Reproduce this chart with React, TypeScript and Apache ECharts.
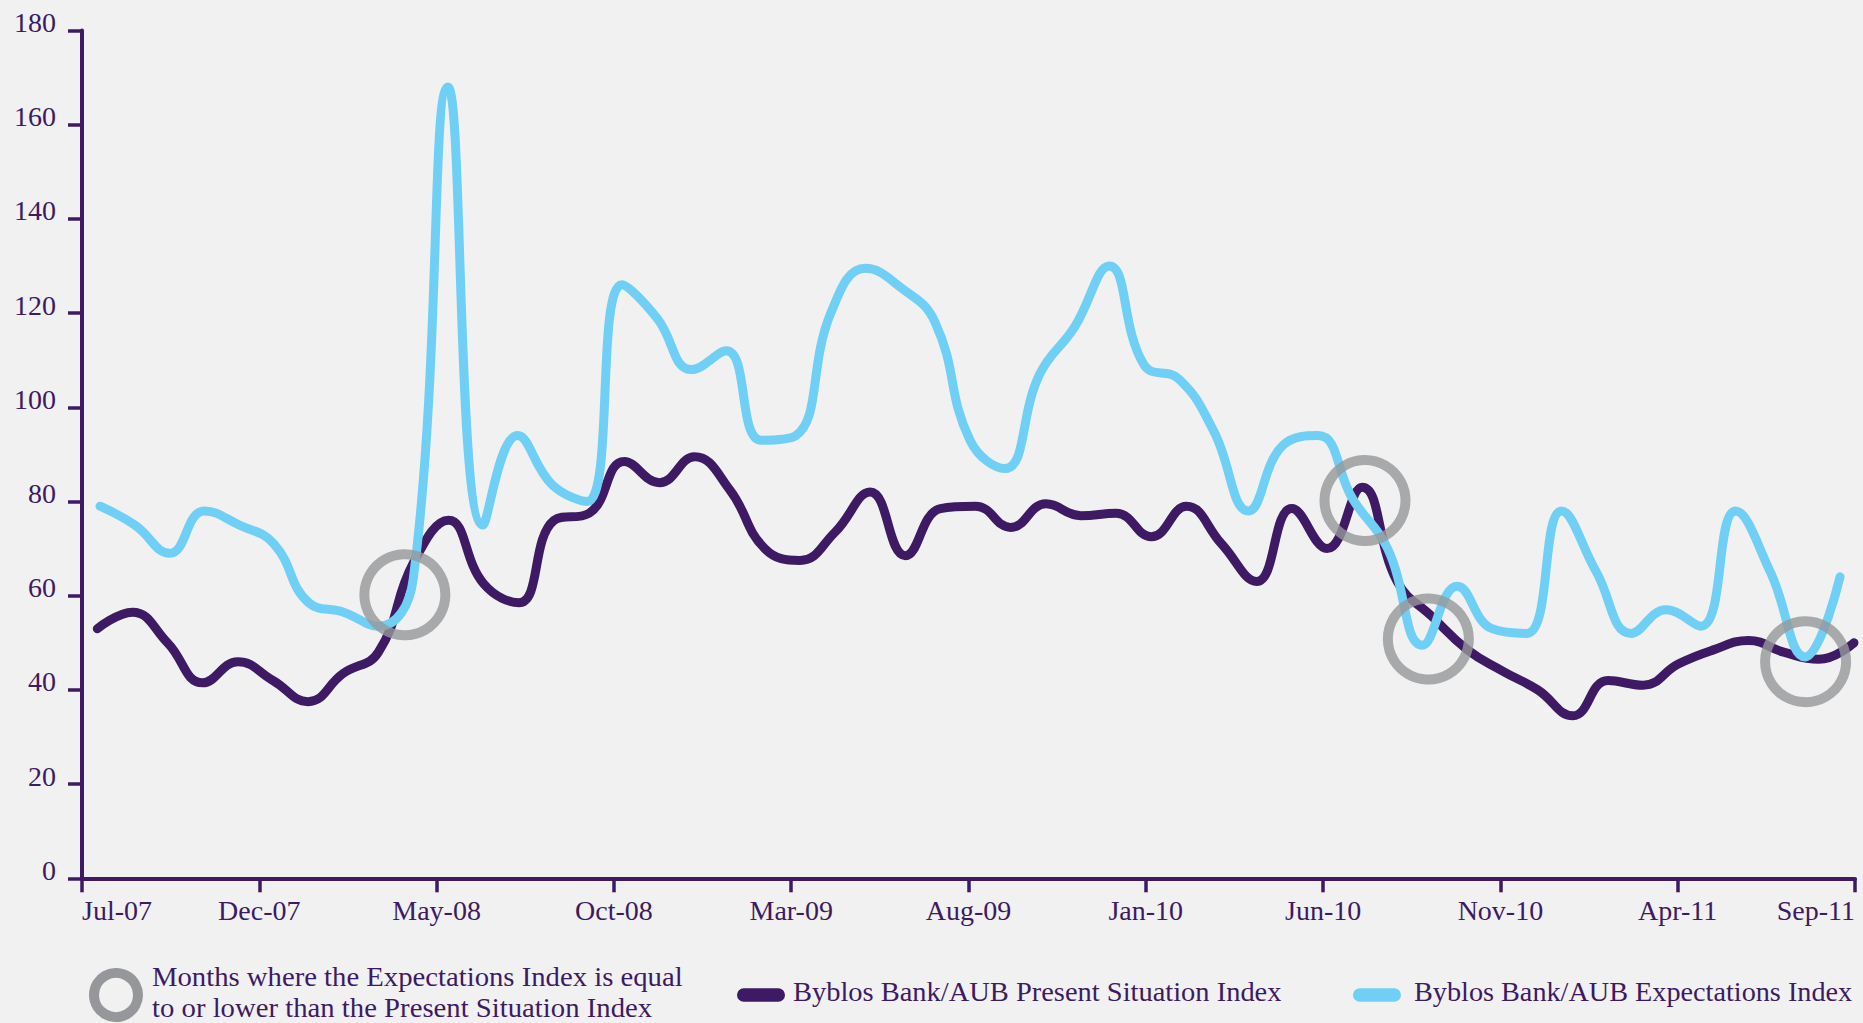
import React, { useEffect, useRef } from "react";
import * as echarts from "echarts";

// Month labels shown under the x-axis ticks (every fifth month, Jul-07 .. Sep-11)
const tickLabels = [
  "Jul-07", "Dec-07", "May-08", "Oct-08", "Mar-09", "Aug-09",
  "Jan-10", "Jun-10", "Nov-10", "Apr-11", "Sep-11",
];

// Byblos Bank/AUB Present Situation Index, monthly Jul-07 .. Sep-11
const presentIndex = [
  53, 56.5, 50, 41.5, 46, 42, 37.5, 43.5, 48, 67,
  76, 62.5, 58.5, 76, 77.5, 88.5, 84, 89.5, 82.5, 70,
  67.5, 73.5, 82, 68.5, 78.5, 79, 74.5, 79.5, 77, 77.5,
  72.5, 79, 71, 63, 78.5, 70, 83, 63, 55.5, 48.5,
  44, 40, 34.5, 42, 41, 45.5, 48.5, 50.5, 48, 46.5,
  50,
];

// Byblos Bank/AUB Expectations Index, monthly Jul-07 .. Sep-11
const expectationsIndex = [
  79, 75, 69, 78, 75, 71, 58.5, 56.5, 53.5, 63.5,
  168, 75, 94, 83.5, 80, 126, 119, 108, 112, 93,
  94, 120, 129.5, 125.5, 118, 93, 87, 107, 117, 130,
  109, 106, 95, 78, 92, 94, 80.5, 70, 49.5, 62,
  53, 52, 78, 65, 52, 57, 53.5, 78, 65, 47,
  64,
];

// Highlighted months (month index, index level) where Expectations <= Present
const ringMonths = [8.76, 36.35, 38.17, 49.01];
const ringLevels = [60.2, 80.2, 50.8, 46.0];

const PURPLE = "#3d1a63";
const CYAN = "#70cff5";
const GREY = "#96979a";
const BG = "#f1f1f1";
const FONT = "'Liberation Serif', 'DejaVu Serif', serif";
const LEGEND_FONT = `28px ${FONT}`;

const PRESENT_NAME = "Byblos Bank/AUB Present Situation Index";
const EXPECT_NAME = "Byblos Bank/AUB Expectations Index";
const RING_NOTE_1 = "Months where the Expectations Index is equal";
const RING_NOTE_2 = "to or lower than the Present Situation Index";

// width of a legend line in the current font, used to stretch it to its slot
function textWidth(text: string): number {
  const ctx = document.createElement("canvas").getContext("2d");
  if (!ctx) return 0;
  ctx.font = LEGEND_FONT;
  return ctx.measureText(text).width;
}

export default function App() {
  const ref = useRef<HTMLDivElement>(null);

  useEffect(() => {
    if (!ref.current) return;
    const chart = echarts.init(ref.current, undefined, { renderer: "svg" });

    const labelStyle = {
      color: PURPLE,
      fontFamily: FONT,
      fontSize: 28,
    };

    const legendText = (x: number, y: number, text: string, slot: number) => {
      const w = textWidth(text);
      const scaleX = w > 0 ? Math.min(1.12, Math.max(0.9, slot / w)) : 1;
      return {
        type: "text",
        x,
        y,
        scaleX,
        style: {
          text,
          font: LEGEND_FONT,
          fill: PURPLE,
          verticalAlign: "middle",
          lineHeight: 24,
        },
      };
    };

    const option: any = {
      animation: false,
      backgroundColor: BG,
      grid: { left: 82, top: 30.5, width: 1773, height: 847.8, containLabel: false },
      xAxis: [
        {
          type: "value",
          min: 0,
          max: 50,
          interval: 5,
          axisLine: { show: true, lineStyle: { color: PURPLE, width: 4 } },
          axisTick: { show: true, inside: false, length: 14, lineStyle: { color: PURPLE, width: 3.5 } },
          splitLine: { show: false },
          axisLabel: {
            ...labelStyle,
            margin: 18,
            showMinLabel: true,
            showMaxLabel: true,
            alignMinLabel: "left",
            alignMaxLabel: "right",
            formatter: (v: number) => tickLabels[Math.round(v / 5)] ?? "",
          },
        },
        // monthly positions of the Present Situation series
        { type: "value", min: -0.4355, max: 50.03, show: false },
        // monthly positions of the Expectations series
        { type: "value", min: -0.517, max: 50.43, show: false },
      ],
      yAxis: {
        type: "value",
        min: 0,
        max: 180,
        interval: 20,
        axisLine: { show: true, lineStyle: { color: PURPLE, width: 4 } },
        axisTick: { show: true, inside: false, length: 14, lineStyle: { color: PURPLE, width: 3.5 } },
        splitLine: { show: false },
        axisLabel: { ...labelStyle, margin: 26, verticalAlign: "bottom", lineHeight: 16 },
      },
      series: [
        {
          name: PRESENT_NAME,
          type: "line",
          xAxisIndex: 1,
          data: presentIndex.map((v, i) => [i, v]),
          smooth: 0.45,
          showSymbol: false,
          symbol: "none",
          lineStyle: { color: PURPLE, width: 9, cap: "round", join: "round" },
          z: 2,
        },
        {
          name: EXPECT_NAME,
          type: "line",
          xAxisIndex: 2,
          data: expectationsIndex.map((v, i) => [i, v]),
          smooth: 0.45,
          showSymbol: false,
          symbol: "none",
          lineStyle: { color: CYAN, width: 9, cap: "round", join: "round" },
          z: 3,
        },
        {
          name: "rings",
          type: "scatter",
          xAxisIndex: 2,
          data: ringMonths.map((m, i) => [m, ringLevels[i]]),
          symbol: "circle",
          symbolSize: 81,
          itemStyle: { color: "rgba(0,0,0,0)", borderColor: GREY, borderWidth: 10 },
          silent: true,
          z: 4,
        },
      ],
      graphic: [
        {
          type: "circle",
          shape: { cx: 116, cy: 995, r: 22 },
          style: { fill: "none", stroke: GREY, lineWidth: 10 },
        },
        legendText(152, 977, RING_NOTE_1, 531),
        legendText(152, 1007.5, RING_NOTE_2, 500),
        {
          type: "rect",
          shape: { x: 737, y: 988.3, width: 48, height: 13.4, r: 6.7 },
          style: { fill: PURPLE },
        },
        legendText(793, 992, PRESENT_NAME, 489),
        {
          type: "rect",
          shape: { x: 1353, y: 988.3, width: 48, height: 13.4, r: 6.7 },
          style: { fill: CYAN },
        },
        legendText(1414, 992, EXPECT_NAME, 438),
      ],
    };

    chart.setOption(option);
    return () => chart.dispose();
  }, []);

  return (
    <div
      ref={ref}
      style={{
        position: "fixed",
        left: 0,
        top: 0,
        width: 1863,
        height: 1023,
        background: BG,
      }}
    />
  );
}
